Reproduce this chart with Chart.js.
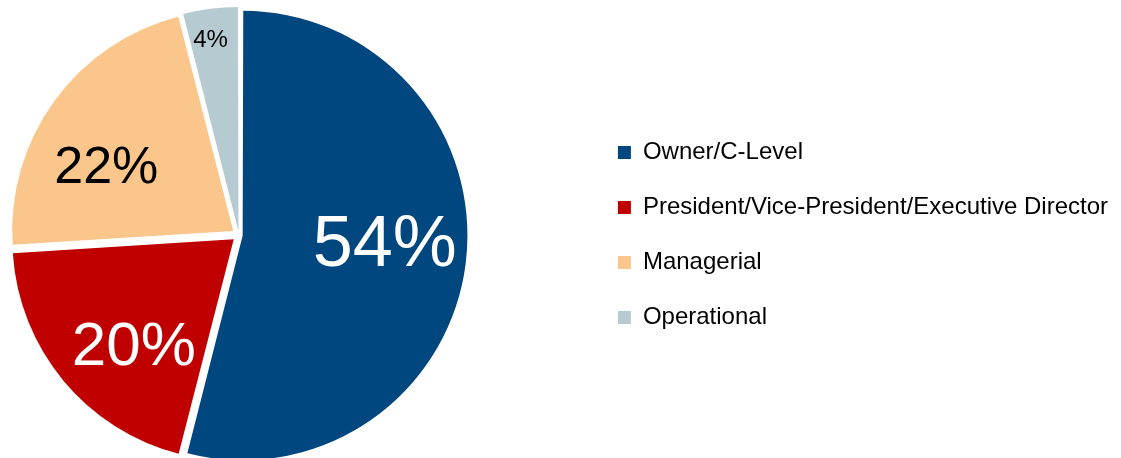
<!DOCTYPE html>
<html>
<head>
<meta charset="utf-8">
<script src="https://cdn.jsdelivr.net/npm/chart.js@4/dist/chart.umd.min.js"></script>
<style>
    html, body { margin: 0; padding: 0; background: #ffffff; }
    #frame { width: 1121px; height: 458px; position: relative; overflow: hidden; }
    /* canvas starts left of the page so the pie sits close to the left edge */
    #wrap { width: 1230px; height: 458px; position: absolute; left: -109px; top: 0; }
</style>
</head>
<body>
<div id="frame"><div id="wrap"><canvas id="myChart"></canvas></div></div>
<script>
const categories = ['Owner/C-Level', 'President/Vice-President/Executive Director', 'Managerial', 'Operational'];
const shares = [54, 20, 22, 4];
const sliceColors = ['#00467f', '#c00000', '#fbc68b', '#b5cbd1'];
// chart.js shrinks the explode distance for wide slices, so each one gets its own value
const sliceOffsets = [15, 27, 28, 16];

// how each percentage label is drawn inside its slice
const labelStyle = [
    { size: 72, color: '#ffffff', dist: 0.66, turn: -5 },
    { size: 62, color: '#ffffff', dist: 0.68, turn: -6 },
    { size: 52, color: '#000000', dist: 0.68, turn: -8 },
    { size: 24, color: '#000000', dist: 0.90, turn: -1 },
];

const sliceLabels = {
    id: 'sliceLabels',
    afterDatasetsDraw(chart) {
        const ctx = chart.ctx;
        const arcs = chart.getDatasetMeta(0).data;
        ctx.save();
        ctx.textAlign = 'center';
        ctx.textBaseline = 'alphabetic';
        arcs.forEach((arc, i) => {
            const st = labelStyle[i];
            const mid = (arc.startAngle + arc.endAngle) / 2 + st.turn * Math.PI / 180;
            const r = arc.outerRadius * st.dist;
            ctx.font = st.size + 'px "Liberation Sans", Arial, sans-serif';
            ctx.fillStyle = st.color;
            // centre the digits (cap height) on the point
            ctx.fillText(shares[i] + '%', arc.x + Math.cos(mid) * r, arc.y + Math.sin(mid) * r + st.size * 0.358);
        });
        ctx.restore();
    },
};

const ctx = document.getElementById('myChart').getContext('2d');
const myChart = new Chart(ctx, {
    type: 'pie',
    data: {
        labels: categories,
        datasets: [
            {
                data: shares,
                backgroundColor: sliceColors,
                borderWidth: 0,
                offset: sliceOffsets,
            },
        ],
    },
    options: {
        responsive: true,
        maintainAspectRatio: false,
        animation: false,
        radius: 221,
        layout: {
            padding: { left: 0, right: 3, top: 12, bottom: 0 },
        },
        plugins: {
            legend: {
                position: 'right',
                labels: {
                    boxWidth: 13,
                    boxHeight: 13,
                    padding: 31,
                    color: '#000000',
                    font: { size: 24, family: '"Liberation Sans", Arial, sans-serif' },
                },
            },
            tooltip: { enabled: false },
        },
    },
    plugins: [sliceLabels],
});
</script>
</body>
</html>
